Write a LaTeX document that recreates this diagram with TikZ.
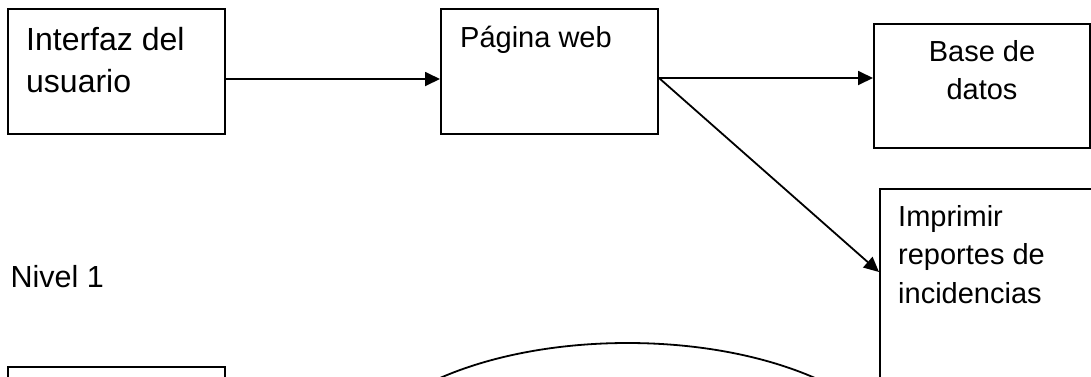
\documentclass[tikz,border=0pt]{standalone}
\usepackage{fontspec}
\setmainfont{Liberation Sans}
\usetikzlibrary{arrows.meta}
\begin{document}
\begin{tikzpicture}[x=1pt,y=-1pt,
  box/.style={draw=black,line width=2pt,rectangle,inner sep=0pt,anchor=north west},
  lbl/.style={inner sep=0pt,anchor=base west},
  conn/.style={line width=1.8pt,-{Triangle[length=15pt,width=14pt]}},
  bigtxt/.style={font=\fontsize{32}{42}\selectfont},
  smalltxt/.style={font=\fontsize{29}{38.5}\selectfont}]
\useasboundingbox (0,0) rectangle (1091,376);
% boxes
\node[box,minimum width=217pt,minimum height=125pt] (b1) at (7,8) {};
\node[box,minimum width=217pt,minimum height=125pt] (b2) at (440,8) {};
\node[box,minimum width=216pt,minimum height=124pt] (b3) at (873,23) {};
\node[box,minimum width=212pt,minimum height=200pt] (b4) at (879,188) {};
\node[box,minimum width=217pt,minimum height=40pt] (b5) at (7,366) {};
% ellipse
\draw[line width=1.8pt] (627.5,479) ellipse [x radius=280, y radius=136];
% texts
\node[lbl,bigtxt] (t1) at (26,50) {\begin{tabular}[t]{@{}l@{}}Interfaz del\\usuario\end{tabular}};
\node[lbl,smalltxt] (t2) at (460,47) {Página web};
\node[inner sep=0pt,anchor=base,smalltxt] (t3) at (982,61) {\begin{tabular}[t]{@{}c@{}}Base de\\datos\end{tabular}};
\node[lbl,smalltxt] (t4) at (898,226) {\begin{tabular}[t]{@{}l@{}}Imprimir\\reportes de\\incidencias\end{tabular}};
\node[lbl,font=\fontsize{30.5}{37}\selectfont] (t5) at (10.5,287) {Nivel 1};
% connectors
\draw[conn] ([yshift=-7.5pt]b1.east) -- ([yshift=-7.5pt]b2.west);
\draw[conn] ([yshift=-6.5pt]b2.east) coordinate (c2) -- ([yshift=8pt]b3.west);
\draw[conn] (c2) -- ([yshift=17pt]b4.west);
\end{tikzpicture}
\end{document}
